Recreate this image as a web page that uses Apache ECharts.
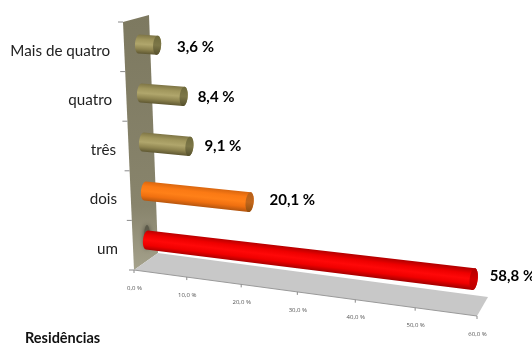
<!DOCTYPE html>
<html><head><meta charset="utf-8">
<style>html,body{margin:0;padding:0;background:#fff}#c{width:532px;height:345px}</style>
<script src="https://cdn.jsdelivr.net/npm/echarts@6/dist/echarts.min.js"></script>
</head><body><div id="c"></div>
<script>
// ---- data ----
const categories = ['um', 'dois', 'três', 'quatro', 'Mais de quatro'];
const values = [58.8, 20.1, 9.1, 8.4, 3.6];
const valueLabels = ['58,8 %', '20,1 %', '9,1 %', '8,4 %', '3,6 %'];
const xTicks = [0, 10, 20, 30, 40, 50, 60];
const xTickLabels = ['0,0 %', '10,0 %', '20,0 %', '30,0 %', '40,0 %', '50,0 %', '60,0 %'];
const axisTitle = 'Residências';
const barRamps = [
  ['#b40000', '#ee0000', '#ff0808', '#f00000', '#a80000'],
  ['#d9660f', '#fb7a14', '#ff8018', '#f07010', '#b5560f'],
  ['#7e7546', '#a0965c', '#b0a66c', '#8f8550', '#5f5832']
];
const barRampIndex = [0, 1, 2, 2, 2];
const capRamps = [
  ['#b00000', '#d00000', '#b80000'],
  ['#b5601a', '#c2671c', '#93500f'],
  ['#6e6a3c', '#7d7748', '#55502c']
];
const labelNudge = [0, 4, -1, -2, 4];

// ---- view (oblique 3D look applied over the cartesian scales) ----
const G = { left: 118, top: 26, w: 343, h: 247.5 };
const persp = 1.1;
const barPlane = { a: [147, 240], b: [481, 280], c: [139, 44], d: [469, 66] };
const floorQ = { a: [134, 270], b: [477, 316], c: [158, 253], d: [488, 297] };
const wallQ = [[123, 22], [149, 15], [158, 253], [134, 270]];
const lerp = (p, q, t) => [p[0] + (q[0] - p[0]) * t, p[1] + (q[1] - p[1]) * t];
const bend = u => u / (persp + (1 - persp) * u);
const quad = (Q, u, w) => lerp(lerp(Q.a, Q.b, u), lerp(Q.c, Q.d, u), w);
function norm(p) {
  const band = G.h / categories.length;
  return [(p[0] - G.left) / G.w, ((G.top + G.h - band / 2) - p[1]) / (band * (categories.length - 1))];
}
function ellipse(c, rx, ry, ang, from, to) {
  const pts = [];
  for (let i = 0; i <= 28; i++) {
    const t = from + (to - from) * i / 28, x = rx * Math.cos(t), y = ry * Math.sin(t);
    pts.push([c[0] + x * Math.cos(ang) - y * Math.sin(ang), c[1] + x * Math.sin(ang) + y * Math.cos(ang)]);
  }
  return pts;
}
function grad(c, r, ang, ramp) {
  const nx = -Math.sin(ang), ny = Math.cos(ang);
  return {
    type: 'linear', global: true,
    x: c[0] - nx * r, y: c[1] - ny * r, x2: c[0] + nx * r, y2: c[1] + ny * r,
    colorStops: ramp.map((col, i) => ({ offset: i / (ramp.length - 1), color: col }))
  };
}

function renderScene(params, api) {
  const ch = [];
  ch.push({ type: 'polygon', shape: { points: wallQ }, style: { fill: {
    type: 'linear', x: 0, y: 0, x2: 0, y2: 1,
    colorStops: [{ offset: 0, color: '#7d7960' }, { offset: 0.75, color: '#88846c' }, { offset: 1, color: '#a5a28c' }]
  } } });
  const e = api.coord([60, 0]);
  const u1 = bend(norm(e)[0]);
  ch.push({ type: 'polygon', shape: { points: [floorQ.a, quad(floorQ, u1, 0), quad(floorQ, u1, 1), floorQ.c] }, style: { fill: '#c8c8c8' } });
  ch.push({ type: 'line', shape: { x1: floorQ.a[0], y1: floorQ.a[1], x2: floorQ.b[0], y2: floorQ.b[1] }, style: { stroke: '#9a9a9a', lineWidth: 1 } });
  for (let i = 0; i <= categories.length; i++) {
    const p = lerp(floorQ.a, wallQ[0], i / categories.length);
    ch.push({ type: 'line', shape: { x1: p[0] - 5, y1: p[1], x2: p[0], y2: p[1] }, style: { stroke: '#8a8a8a', lineWidth: 1 } });
  }
  return { type: 'group', children: ch };
}
function renderTick(params, api) {
  const v = api.value(0), i = params.dataIndex;
  const u = bend(norm(api.coord([v, 0]))[0]);
  const p = lerp(floorQ.a, floorQ.b, u);
  return { type: 'group', children: [
    { type: 'line', shape: { x1: p[0], y1: p[1], x2: p[0], y2: p[1] + 3 }, style: { stroke: '#8a8a8a', lineWidth: 1 } },
    { type: 'text', style: { text: xTickLabels[i], x: p[0] + 0.5, y: p[1] + 18, align: 'center', verticalAlign: 'middle', fill: '#555', font: '6px "Open Sans"' } }
  ] };
}
function renderBar(params, api) {
  const v = api.value(0), c = api.value(1), i = params.dataIndex;
  const n0 = norm(api.coord([0, c])), n1 = norm(api.coord([v, c]));
  const s = quad(barPlane, bend(n0[0]), n0[1]), t = quad(barPlane, bend(n1[0]), n1[1]);
  const ang = Math.atan2(t[1] - s[1], t[0] - s[0]);
  const r0 = 9.5, r1 = 9.5 + 1.5 * bend(n1[0]), rx = 4;
  const ramp = barRamps[barRampIndex[i]], cap = capRamps[barRampIndex[i]];
  const mid = lerp(s, t, 0.5), rm = (r0 + r1) / 2;
  const body = ellipse(s, rx, r0, ang, Math.PI * 0.5, Math.PI * 1.5).concat(ellipse(t, rx, r1, ang, -Math.PI * 0.5, Math.PI * 0.5));
  const ch = [];
  if (v === Math.max.apply(null, values)) {
    ch.push({ type: 'polygon', shape: { points: ellipse([s[0], s[1] - 3], 3, 12, 0, 0, Math.PI * 2) }, style: { fill: '#5c5a4a', shadowBlur: 5, shadowColor: '#4c4a3e' } });
  }
  ch.push({ type: 'polygon', shape: { points: body }, style: { fill: grad(mid, rm, ang, ramp) } });
  ch.push({ type: 'polygon', shape: { points: ellipse(t, rx, r1, ang, 0, Math.PI * 2) }, style: { fill: grad(t, r1, ang, cap) } });
  ch.push({ type: 'text', style: { text: valueLabels[i], x: t[0] + rx + 12 + labelNudge[i], y: t[1] - 3 + 5 * n1[1], align: 'left', verticalAlign: 'middle', fill: '#000', font: 'bold 15px Lato' } });
  return { type: 'group', children: ch };
}

const labelRich = pad => ({ padding: [0, pad, 0, 0], fontFamily: 'Lato', fontSize: 15.2, color: '#222' });
const chart = echarts.init(document.getElementById('c'), null, { renderer: 'canvas' });
chart.setOption({
  animation: false,
  backgroundColor: '#fff',
  title: { text: axisTitle, left: 25, top: 331, padding: 0, textStyle: { fontFamily: 'Lato', fontWeight: 'bold', fontSize: 14.5, color: '#111' } },
  grid: { left: G.left, top: G.top, width: G.w, height: G.h, containLabel: false },
  xAxis: { type: 'value', min: 0, max: 60, interval: 10, show: false },
  yAxis: {
    type: 'category', data: categories,
    axisLine: { show: false }, axisTick: { show: false }, splitLine: { show: false },
    axisLabel: {
      margin: 0, fontFamily: 'Lato', fontSize: 15.2, color: '#222',
      formatter: (val, idx) => '{r' + idx + '|' + val + '}',
      rich: { r0: labelRich(0), r1: labelRich(1), r2: labelRich(2), r3: labelRich(6), r4: labelRich(8) }
    }
  },
  series: [
    { type: 'custom', coordinateSystem: 'cartesian2d', z: 1, silent: true, clip: false, data: [[0, 0]], encode: { x: 0, y: 1 }, renderItem: renderScene },
    { type: 'custom', coordinateSystem: 'cartesian2d', z: 2, silent: true, clip: false, data: xTicks.map(t => [t, 0]), encode: { x: 0, y: 1 }, renderItem: renderTick },
    { type: 'custom', coordinateSystem: 'cartesian2d', z: 3, silent: true, clip: false, data: values.map((v, i) => [v, i]), encode: { x: 0, y: 1 }, renderItem: renderBar }
  ]
});
</script></body></html>
